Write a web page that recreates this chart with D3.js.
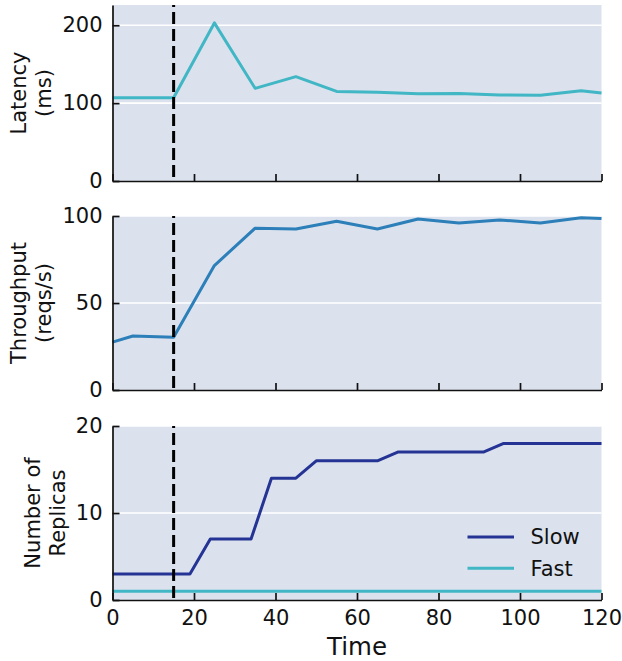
<!DOCTYPE html>
<html>
<head>
<meta charset="utf-8">
<script src="https://cdn.jsdelivr.net/npm/d3@7"></script>
<style>
	body { margin: 0; background: #fff; }
	text { font-family: "DejaVu Sans", sans-serif; fill: #111; }
</style>
</head>
<body onload="onLoad()">
<div></div>
<script>
var timeTicks = [0, 20, 40, 60, 80, 100, 120];

var latencyTime = [0, 15, 25, 35, 45, 55, 65, 75, 85, 95, 105, 115, 120],
	latencyValues = [107, 107, 203, 119, 134, 115, 114, 112, 112.5, 110.5, 110, 116, 113];

var throughputTime = [0, 5, 15, 25, 35, 45, 55, 65, 75, 85, 95, 105, 115, 120],
	throughputValues = [27.5, 31, 30.3, 71.5, 93, 92.5, 97, 92.5, 98.3, 96, 97.7, 96, 99, 98.5];

var slowTime = [0, 19, 24, 34, 39, 45, 50, 65, 70, 91, 96, 120],
	slowValues = [3, 3, 7, 7, 14, 14, 16, 16, 17, 17, 18, 18];

var fastTime = [0, 120],
	fastValues = [1, 1];

var latencyTicks = [0, 100, 200],
	throughputTicks = [0, 50, 100],
	replicaTicks = [0, 10, 20];

var eventTime = 15;

var svgContainer,
	plotLeft = 112.5,
	plotRight = 601.5,
	bgColor = "#dbe2ee",
	fontSize = 21,
	lineWidth = 3;

var colors = {
	latency: "#41b6c4",
	throughput: "#2c7fb8",
	slow: "#253494",
	fast: "#41b6c4"
};

function onLoad() {
	svgContainer = d3.select("div")
		.append("svg")
		.attr("width", 622)
		.attr("height", 661);

	var xScale = d3.scaleLinear().domain([0, 120]).range([plotLeft, plotRight]);

	var p1 = drawPanel(xScale, {top: 5, bottom: 181}, [0, 226], latencyTicks, ["Latency", "(ms)"], 26, false);
	drawSeries(p1, xScale, latencyTime, latencyValues, colors.latency);
	drawEventLine(p1, xScale);

	var p2 = drawPanel(xScale, {top: 216, bottom: 390}, [0, 100], throughputTicks, ["Throughput", "(reqs/s)"], 26, false);
	drawSeries(p2, xScale, throughputTime, throughputValues, colors.throughput);
	drawEventLine(p2, xScale);

	// tick labels here are narrower, so the label sits closer to the axis
	var p3 = drawPanel(xScale, {top: 426, bottom: 600}, [0, 20], replicaTicks, ["Number of", "Replicas"], 40, true);
	drawSeries(p3, xScale, slowTime, slowValues, colors.slow);
	drawSeries(p3, xScale, fastTime, fastValues, colors.fast);
	drawEventLine(p3, xScale);

	drawLegend([["Slow", colors.slow], ["Fast", colors.fast]], {x: 467.5, y: 537});

	svgContainer.append("text")
		.attr("x", (plotLeft + plotRight) / 2)
		.attr("y", 655)
		.attr("text-anchor", "middle")
		.style("font-size", "24.5px")
		.text("Time");
}

function drawPanel(xScale, box, domain, ticks, label, labelX, showXLabels) {
	var yScale = d3.scaleLinear().domain(domain).range([box.bottom, box.top]);
	var g = svgContainer.append("g");

	g.append("rect")
		.attr("x", plotLeft)
		.attr("y", box.top)
		.attr("width", plotRight - plotLeft)
		.attr("height", box.bottom - box.top)
		.style("fill", bgColor);

	// white horizontal grid
	g.selectAll(".grid")
		.data(ticks.filter((t) => t > domain[0]))
		.enter().append("line")
		.attr("x1", plotLeft)
		.attr("x2", plotRight)
		.attr("y1", (d) => yScale(d))
		.attr("y2", (d) => yScale(d))
		.attr("stroke", "#fff")
		.attr("stroke-width", 1.6);

	var yAxis = d3.axisLeft(yScale).tickValues(ticks).tickSize(-7).tickPadding(10).tickSizeOuter(0);
	var xAxis = d3.axisBottom(xScale).tickValues(timeTicks).tickSize(-7).tickPadding(10).tickSizeOuter(0);
	if (!showXLabels) xAxis.tickFormat("");

	var plotArea = g.append("g").attr("class", "plot");

	var yg = g.append("g")
		.attr("transform", "translate(" + plotLeft + ",0)")
		.call(yAxis);
	var xg = g.append("g")
		.attr("transform", "translate(0," + box.bottom + ")")
		.call(xAxis);

	[yg, xg].forEach((a) => {
		a.selectAll("path").attr("stroke", "#111").attr("stroke-width", 1.7);
		a.selectAll("line").attr("stroke", "#111").attr("stroke-width", 1.7);
		a.selectAll("text").style("font-size", fontSize + "px").style("font-family", "DejaVu Sans").attr("fill", "#111");
	});

	var cy = (box.top + box.bottom) / 2;
	var lab = g.append("text")
		.attr("transform", "translate(0," + cy + ") rotate(-90)")
		.attr("text-anchor", "middle")
		.style("font-size", fontSize + "px");
	lab.append("tspan").attr("x", 0).attr("y", labelX).text(label[0]);
	lab.append("tspan").attr("x", 0).attr("y", labelX + 24.5).text(label[1]);

	return {g: plotArea, y: yScale, box: box};
}

function drawSeries(panel, xScale, xs, ys, color) {
	var pts = xs.map((x, i) => [x, ys[i]]);
	var line = d3.line().x((d) => xScale(d[0])).y((d) => panel.y(d[1]));
	panel.g.append("path")
		.datum(pts)
		.attr("d", line)
		.attr("fill", "none")
		.attr("stroke", color)
		.attr("stroke-width", lineWidth)
		.attr("stroke-linejoin", "round");
}

function drawEventLine(panel, xScale) {
	panel.g.append("line")
		.attr("x1", xScale(eventTime))
		.attr("x2", xScale(eventTime))
		.attr("y1", panel.box.top)
		.attr("y2", panel.box.bottom)
		.attr("stroke", "#000")
		.attr("stroke-width", lineWidth)
		.attr("stroke-dasharray", "12,5")
		.attr("stroke-dashoffset", 10);
}

function drawLegend(items, pos) {
	items.forEach((item, i) => {
		var y = pos.y + i * 31.3;
		svgContainer.append("line")
			.attr("x1", pos.x)
			.attr("x2", pos.x + 46.5)
			.attr("y1", y)
			.attr("y2", y)
			.attr("stroke", item[1])
			.attr("stroke-width", lineWidth);
		svgContainer.append("text")
			.attr("x", pos.x + 63)
			.attr("y", y)
			.attr("dy", "0.35em")
			.style("font-size", fontSize + "px")
			.text(item[0]);
	});
}
</script>
</body>
</html>
